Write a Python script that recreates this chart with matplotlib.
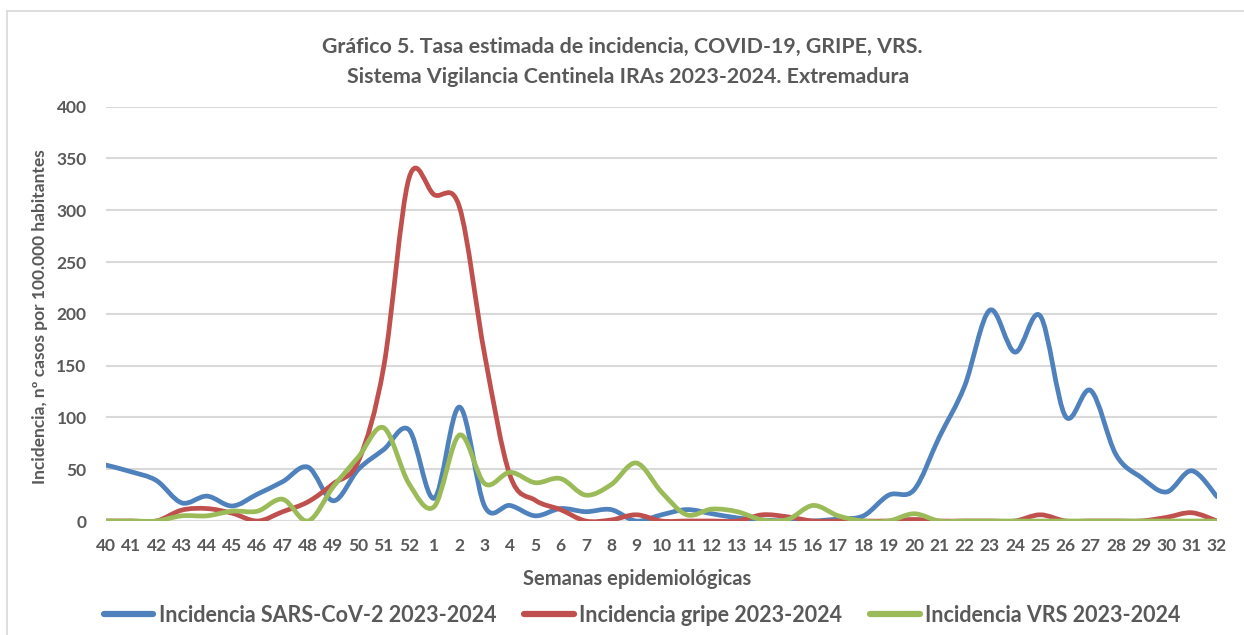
import matplotlib
matplotlib.use("Agg")
import matplotlib.pyplot as plt
from matplotlib.path import Path
from matplotlib.patches import PathPatch
from matplotlib.lines import Line2D
import numpy as np

weeks = [str(w) for w in list(range(40, 53)) + list(range(1, 33))]

sars = [54, 47.5, 39, 17.5, 24, 14.5, 26, 38, 52, 19.5, 50, 69, 88,
        22, 110, 14, 15, 5, 12, 9, 11, 0, 6, 11, 7, 3, 1, 0, 0, 2, 5, 25,
        30, 81, 130, 203.5, 163, 198, 101, 126, 64, 42, 28, 48.5, 23.5]
gripe = [0, 0, 0, 10.5, 12, 7.5, 0, 9, 18.5, 36, 58, 149, 331,
         315, 303, 160, 44, 20, 11, 0, 1, 6, 0, 0, 0, 0, 6, 4, 0, 0, 0, 0,
         1.5, 0, 0, 0, 0, 6, 0, 0, 0, 0, 3.5, 8, 0]
vrs = [0, 0, 0, 5, 5, 9.5, 9.5, 21, 0, 33, 62, 90, 36,
       14, 83, 36, 47, 37, 41, 25, 35, 56, 28, 6, 11.5, 9, 1, 1.5, 15, 5, 0, 0,
       7, 0, 0, 0, 0, 0, 0, 0, 0, 0, 0, 0, 0]

series = [
    ("Incidencia SARS-CoV-2 2023-2024", sars, "#4F81BD"),
    ("Incidencia gripe 2023-2024", gripe, "#C0504D"),
    ("Incidencia VRS 2023-2024", vrs, "#9BBB59"),
]

TXT = "#595959"
plt.rcParams['font.family'] = ['Lato', 'DejaVu Sans']


def smooth_path(x, y, t=1/6):
    x = np.asarray(x, float)
    y = np.asarray(y, float)
    n = len(x)
    verts = [(x[0], y[0])]
    codes = [Path.MOVETO]
    for i in range(n - 1):
        i0 = max(i - 1, 0)
        i3 = min(i + 2, n - 1)
        c1 = (x[i] + (x[i + 1] - x[i0]) * t, y[i] + (y[i + 1] - y[i0]) * t)
        c2 = (x[i + 1] - (x[i3] - x[i]) * t, y[i + 1] - (y[i3] - y[i]) * t)
        verts += [c1, c2, (x[i + 1], y[i + 1])]
        codes += [Path.CURVE4] * 3
    return Path(verts, codes)


fig = plt.figure(figsize=(12.44, 6.35), dpi=100)
ax = fig.add_axes([106 / 1244, 1 - 521 / 635, (1217 - 106) / 1244, (521 - 106.7) / 635])

xs = np.arange(len(weeks))
handles = []
for name, vals, col in series:
    p = smooth_path(xs, vals)
    ax.add_patch(PathPatch(p, facecolor="none", edgecolor=col, lw=3.4,
                           capstyle="round", joinstyle="round", zorder=3))
    handles.append(Line2D([], [], color=col, lw=4.5, solid_capstyle="round", label=name))

ax.set_xlim(0, len(weeks) - 1)
ax.set_ylim(0, 400)
ax.set_yticks(range(0, 401, 50))
ax.set_xticks(xs)
ax.set_xticklabels(weeks)
ax.grid(axis="y", color="#D9D9D9", lw=1.5, zorder=0)
for s in ax.spines.values():
    s.set_visible(False)
ax.tick_params(axis="both", length=0, labelcolor=TXT, labelsize=12.5)
ax.tick_params(axis="x", pad=12)
ax.tick_params(axis="y", pad=14)
for lab in ax.get_xticklabels() + ax.get_yticklabels():
    lab.set_fontweight("bold")

fig.text(637 / 1244, 1 - 579 / 635, "Semanas epidemiológicas",
         ha="center", va="center", fontsize=14.5, fontweight="bold", color=TXT)
fig.text(40 / 1244, 1 - 317 / 635, "Incidencia, nº casos por 100.000 habitantes",
         rotation=90, ha="center", va="center", fontsize=12.5, fontweight="bold", color=TXT)

fig.text(622 / 1244, 1 - 47 / 635, "Gráfico 5. Tasa estimada de incidencia, COVID-19, GRIPE, VRS.",
         ha="center", va="center", fontsize=15.4, fontweight="bold", color=TXT)
fig.text(628 / 1244, 1 - 77 / 635, "Sistema Vigilancia Centinela IRAs 2023-2024. Extremadura",
         ha="center", va="center", fontsize=15.4, fontweight="bold", color=TXT)

leg = fig.legend(handles=handles, loc="center", ncol=3, bbox_to_anchor=(642 / 1244, 1 - 615 / 635),
                 frameon=False, handlelength=2.3, handletextpad=0.25, columnspacing=1.3,
                 prop={"size": 15.5, "weight": "bold"})
for t in leg.get_texts():
    t.set_color(TXT)

# outer chart border (left and top visible)
fig.add_artist(Line2D([7 / 1244, 7 / 1244], [0, 1 - 11 / 635], color="#D9D9D9", lw=1.2))
fig.add_artist(Line2D([7 / 1244, 1], [1 - 11 / 635, 1 - 11 / 635], color="#D9D9D9", lw=1.2))

fig.savefig("out.png", dpi=100)
